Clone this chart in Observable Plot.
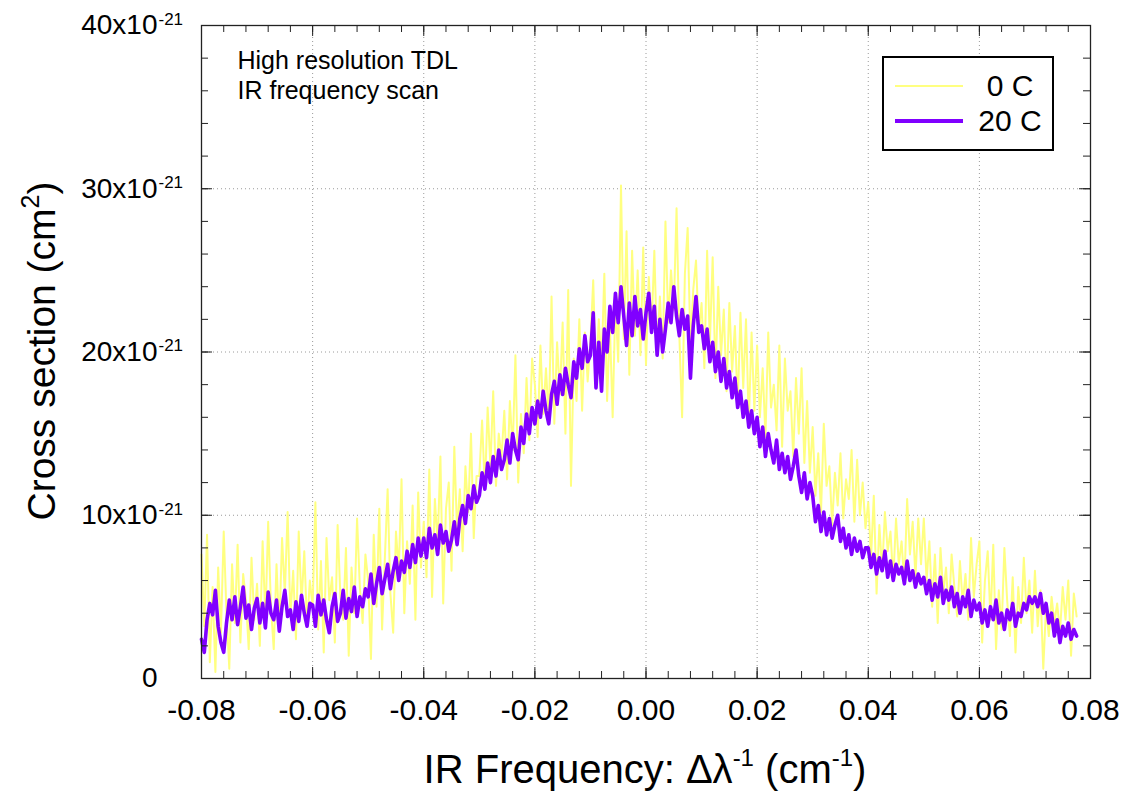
<!DOCTYPE html>
<html><head><meta charset="utf-8">
<script src="https://cdn.jsdelivr.net/npm/d3@7"></script>
<script src="https://cdn.jsdelivr.net/npm/@observablehq/plot@0.6"></script>
<style>
body{margin:0;background:#fff;}
#wrap{position:relative;width:1126px;height:793px;font-family:"Liberation Sans",Arial,Helvetica,sans-serif;}
#wrap svg{display:block;}
#legend{position:absolute;left:880px;top:54px;}
</style></head><body><div id="wrap"></div>
<script>
// Sampling grid of the frequency scan (cm^-1): one sample every 0.0005 from -0.08
const xStart = -0.08, xStep = 0.0005;
// Cross section values in units of 1e-21 cm^2 (one row per 0.01 cm^-1)
const cs0C = [
 7.6, 3.2, 8.8, 1.0, 5.6, 0.4, 6.8, 2.8, 9.0, 4.0, 0.6, 7.0, 3.4, 8.2, 2.2, 6.4, 4.8, 1.8, 7.4, 3.6,
 5.8, 2.0, 8.4, 3.6, 9.6, 4.4, 1.8, 7.0, 3.0, 8.6, 5.2, 10.2, 3.8, 6.6, 2.4, 9.0, 4.6, 7.8, 3.2, 6.0,
 4.4, 10.8, 3.0, 7.2, 1.6, 8.6, 4.8, 6.2, 2.2, 9.4, 5.0, 3.6, 8.0, 1.4, 6.8, 4.0, 9.8, 5.6, 3.4, 7.6,
 6.0, 1.2, 8.8, 4.4, 10.4, 3.0, 7.4, 11.6, 5.2, 2.8, 9.0, 6.6, 12.2, 4.0, 8.4, 5.8, 10.6, 3.6, 11.4, 6.8,
 9.6, 6.2, 12.8, 5.0, 11.0, 8.2, 13.6, 4.6, 10.4, 12.0, 6.6, 14.2, 9.0, 11.6, 7.8, 13.0, 10.2, 15.0, 8.6, 12.4,
 12.4, 15.8, 11.6, 16.6, 13.0, 17.6, 11.8, 15.0, 13.6, 16.4, 12.2, 17.0, 14.0, 19.8, 12.0, 16.2, 13.8, 18.4, 14.6, 19.6,
 18.0, 14.8, 20.4, 16.2, 19.0, 15.8, 23.4, 15.6, 20.6, 17.4, 21.8, 15.0, 23.8, 11.8, 19.6, 17.0, 22.0, 16.4, 21.2, 18.2,
 20.6, 24.4, 18.4, 22.0, 19.2, 24.8, 17.0, 21.6, 16.0, 23.2, 19.4, 30.2, 20.8, 27.4, 18.6, 26.2, 21.0, 25.0, 19.8, 26.4,
 19.2, 24.6, 21.4, 26.2, 20.0, 23.4, 19.6, 28.0, 21.8, 25.0, 22.6, 28.8, 21.0, 16.0, 24.8, 27.6, 20.4, 23.8, 25.6, 21.2,
 23.0, 19.0, 26.2, 20.6, 25.8, 18.4, 24.0, 19.8, 22.6, 17.6, 23.0, 18.8, 21.6, 16.6, 22.4, 17.8, 22.0, 15.6, 21.2, 16.4,
 20.4, 16.0, 19.0, 14.8, 21.2, 16.6, 18.0, 15.2, 20.4, 14.2, 19.6, 16.4, 17.6, 13.6, 18.4, 15.0, 19.0, 13.2, 17.0, 12.6,
 15.4, 11.2, 13.8, 10.2, 15.6, 11.8, 13.0, 9.4, 12.6, 10.6, 13.8, 9.8, 12.2, 11.0, 14.0, 9.6, 13.4, 10.0, 12.0, 9.2,
 10.8, 7.4, 11.2, 5.2, 9.4, 6.6, 10.2, 7.8, 9.0, 6.0, 9.8, 7.0, 8.4, 5.8, 11.0, 7.6, 9.6, 6.2, 9.8, 7.0,
 9.8, 6.0, 8.4, 4.4, 7.6, 3.4, 8.0, 5.2, 6.8, 4.0, 7.6, 5.6, 3.8, 7.2, 4.6, 6.4, 3.6, 8.6, 5.0, 7.0,
 8.4, 2.2, 6.0, 7.8, 3.6, 8.2, 1.8, 5.4, 3.0, 8.0, 4.8, 2.6, 6.2, 1.6, 5.6, 3.4, 7.4, 4.0, 6.0, 2.8,
 6.6, 3.2, 5.4, 0.6, 4.4, 2.6, 5.0, 3.4, 4.6, 2.8, 5.6, 3.6, 6.0, 1.4, 5.2, 3.8
];
const cs20C = [
 2.4, 1.6, 3.6, 4.6, 3.9, 5.4, 3.2, 2.2, 1.6, 3.4, 4.8, 3.6, 5.0, 3.3, 4.4, 5.6, 3.7, 4.5, 3.0, 4.3,
 4.9, 3.4, 4.6, 3.1, 5.3, 4.0, 3.6, 4.8, 2.9, 4.4, 5.4, 3.8, 4.2, 3.0, 4.7, 3.5, 5.1, 4.0, 3.2, 4.6,
 4.5, 3.2, 5.1, 3.9, 4.8, 3.6, 2.8, 4.4, 5.2, 3.5, 4.0, 5.4, 3.7, 4.9, 4.1, 5.6, 3.8, 5.0, 4.4, 5.5,
 5.0, 6.4, 4.6, 5.8, 6.8, 5.2, 6.1, 7.0, 5.5, 6.6, 7.4, 6.0, 7.2, 6.5, 7.8, 6.8, 8.2, 7.1, 8.6, 7.5,
 8.6, 7.4, 9.2, 8.0, 8.8, 7.6, 9.4, 8.3, 9.0, 7.8, 8.5, 9.6, 8.2, 9.8, 10.6, 9.5, 11.2, 10.4, 11.8, 10.8,
 11.2, 12.6, 11.6, 13.2, 12.0, 13.6, 12.4, 14.0, 12.8, 13.4, 14.6, 13.2, 15.0, 14.0, 13.4, 15.4, 14.4, 16.2, 15.0, 16.6,
 15.6, 17.0, 16.0, 17.6, 16.4, 15.6, 17.4, 18.2, 16.8, 18.6, 17.4, 19.0, 18.0, 17.2, 19.4, 18.4, 20.2, 19.0, 21.0, 19.4,
 19.8, 22.4, 17.8, 20.6, 17.6, 21.4, 20.0, 22.8, 21.2, 23.6, 21.8, 24.0, 22.2, 20.4, 23.0, 21.0, 23.4, 21.6, 22.6, 20.8,
 22.4, 23.6, 21.2, 22.8, 19.8, 22.0, 20.0, 21.4, 23.0, 21.8, 24.0, 22.2, 21.0, 22.6, 21.4, 22.2, 18.4, 21.6, 23.4, 21.2,
 21.6, 20.2, 21.4, 19.4, 20.6, 18.8, 20.0, 18.2, 19.6, 17.8, 18.8, 17.2, 18.4, 16.6, 17.6, 16.0, 17.0, 15.4, 16.4, 15.0,
 16.0, 14.2, 15.4, 13.6, 15.0, 14.0, 13.2, 14.6, 12.8, 13.8, 12.6, 13.6, 12.2, 13.0, 14.0, 12.4, 11.4, 12.6, 11.0, 12.0,
 11.2, 9.6, 10.6, 9.0, 10.2, 8.8, 9.8, 8.6, 9.4, 10.0, 8.4, 9.2, 8.0, 8.8, 7.6, 8.6, 7.8, 8.4, 7.4, 8.0,
 8.0, 6.8, 7.6, 6.4, 7.4, 6.6, 7.8, 6.2, 7.2, 6.0, 7.0, 6.4, 6.8, 5.8, 7.2, 6.0, 6.6, 5.6, 6.4, 5.8,
 6.2, 5.2, 6.0, 4.8, 5.8, 5.0, 6.2, 4.6, 5.4, 4.8, 5.6, 4.4, 5.2, 4.0, 5.0, 4.4, 5.4, 3.8, 4.8, 4.2,
 4.6, 3.4, 4.2, 3.2, 4.4, 3.6, 4.8, 3.4, 4.0, 3.0, 4.2, 3.6, 4.6, 3.2, 4.0, 3.8, 4.6, 4.2, 5.0, 4.6,
 5.0, 4.4, 5.2, 4.0, 4.6, 3.4, 4.0, 2.6, 3.6, 2.2, 3.2, 2.6, 3.4, 2.4, 3.0, 2.6
];
const seriesNames = ["0 C", "20 C"];
const seriesColors = ["#ffff80", "#8000ff"];
const xTicks = [-0.08, -0.06, -0.04, -0.02, 0, 0.02, 0.04, 0.06, 0.08];
const yTicks = [0, 10, 20, 30, 40];
const yTickMantissa = "x10";
const yTickExponent = "-21";
const annotationLines = ["High resolution TDL", "IR frequency scan"];

const xMinor = d3.range(-80, 81, 4).map(d => d / 1000);
const yMinor = d3.range(0, 41, 2);

const W = 1126, H = 793, mL = 201, mR = 36, mT = 25, mB = 115;
const innerW = W - mL - mR, innerH = H - mT - mB;

const rows0 = cs0C.map((v, i) => ({x: xStart + i * xStep, y: v}));
const rows20 = cs20C.map((v, i) => ({x: xStart + i * xStep, y: v}));

const font = "Liberation Sans, Arial, Helvetica, sans-serif";
const axisColor = "#222";

const chart = Plot.plot({
  width: W, height: H,
  marginLeft: mL, marginRight: mR, marginTop: mT, marginBottom: mB,
  style: {fontFamily: font, background: "#fff", color: "#000", overflow: "visible"},
  x: {domain: [-0.08, 0.08]},
  y: {domain: [0, 40]},
  marks: [
    Plot.ruleX(xTicks.slice(1, -1), {x: d => d, stroke: "#9a9a9a", strokeDasharray: "1,3"}),
    Plot.ruleY(yTicks.slice(1, -1), {y: d => d, stroke: "#9a9a9a", strokeDasharray: "1,3"}),
    Plot.line(rows0, {x: "x", y: "y", stroke: seriesColors[0], strokeWidth: 2}),
    Plot.line(rows20, {x: "x", y: "y", stroke: seriesColors[1], strokeWidth: 3.6}),
    // tick marks, pointing inward on all four sides
    Plot.ruleX(xMinor, {x: d => d, insetTop: innerH - 7, stroke: axisColor}),
    Plot.ruleX(xMinor, {x: d => d, insetBottom: innerH - 7, stroke: axisColor}),
    Plot.ruleX(xTicks, {x: d => d, insetTop: innerH - 11, stroke: axisColor}),
    Plot.ruleX(xTicks, {x: d => d, insetBottom: innerH - 11, stroke: axisColor}),
    Plot.ruleY(yMinor, {y: d => d, insetRight: innerW - 7, stroke: axisColor}),
    Plot.ruleY(yMinor, {y: d => d, insetLeft: innerW - 7, stroke: axisColor}),
    Plot.ruleY(yTicks, {y: d => d, insetRight: innerW - 11, stroke: axisColor}),
    Plot.ruleY(yTicks, {y: d => d, insetLeft: innerW - 11, stroke: axisColor}),
    Plot.frame({stroke: axisColor, strokeWidth: 1.3}),
    Plot.axisX(xTicks, {tickSize: 0, tickPadding: 20, fontSize: 30, tickFormat: d => d.toFixed(2), label: null, fill: "#000"}),
    Plot.axisY(yTicks, {tickSize: 0, tickPadding: 44, fontSize: 28, tickFormat: d => d === 0 ? "0" : d + yTickMantissa, label: null, fill: "#000"}),
    Plot.text(yTicks.filter(d => d > 0), {y: d => d, frameAnchor: "left", dx: -43, dy: -6, text: () => yTickExponent, textAnchor: "start", fontSize: 17, fill: "#000"}),
    Plot.text([annotationLines.join("\n")], {frameAnchor: "top-left", dx: 36, dy: 22, text: d => d, textAnchor: "start", lineAnchor: "top", lineHeight: 1.2, fontSize: 25, fill: "#000"})
  ]
});

const wrap = document.getElementById("wrap");
wrap.appendChild(chart);

// axis titles with superscripts
const svg = d3.select(chart);
const xt = svg.append("text").attr("x", 645).attr("y", 783).attr("text-anchor", "middle")
  .attr("font-size", 40).attr("font-family", font).attr("fill", "#000");
xt.append("tspan").text("IR Frequency: \u0394\u03bb");
xt.append("tspan").attr("font-size", 24).attr("dy", -17).text("-1");
xt.append("tspan").attr("dy", 17).text(" (cm");
xt.append("tspan").attr("font-size", 24).attr("dy", -17).text("-1");
xt.append("tspan").attr("dy", 17).text(")");

const yt = svg.append("text").attr("transform", "translate(55,351) rotate(-90)").attr("text-anchor", "middle")
  .attr("font-size", 39).attr("font-family", font).attr("fill", "#000");
yt.append("tspan").text("Cross section (cm");
yt.append("tspan").attr("font-size", 25).attr("dy", -16).text("2");
yt.append("tspan").attr("dy", 16).text(")");

// legend
const lg = d3.select(wrap).append("svg").attr("id", "legend").attr("width", 176).attr("height", 100);
lg.append("rect").attr("x", 3).attr("y", 3).attr("width", 170).attr("height", 93)
  .attr("fill", "#fff").attr("stroke", "#000").attr("stroke-width", 2);
const legendY = [32, 67];
const legendW = [2, 4];
seriesNames.forEach((name, i) => {
  lg.append("line").attr("x1", 15).attr("x2", 83).attr("y1", legendY[i]).attr("y2", legendY[i])
    .attr("stroke", seriesColors[i]).attr("stroke-width", legendW[i]);
  lg.append("text").attr("x", 130).attr("y", legendY[i] + 10).attr("text-anchor", "middle")
    .attr("font-size", 30).attr("font-family", font).attr("fill", "#000").text(name);
});
</script></body></html>
